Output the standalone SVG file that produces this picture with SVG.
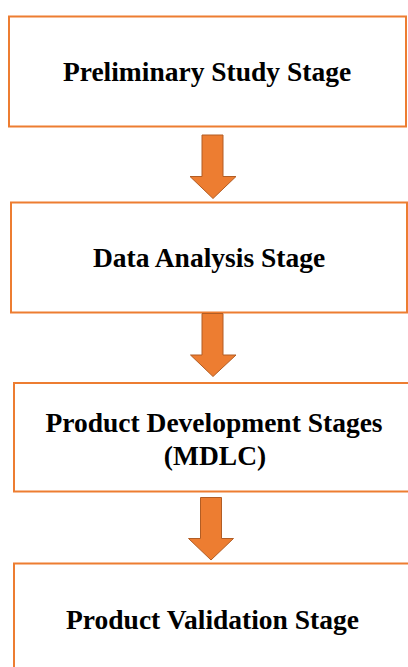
<svg xmlns="http://www.w3.org/2000/svg" width="408" height="667" viewBox="0 0 408 667">
<style>
.box{fill:#fff;stroke:#ED7D31;stroke-width:2}
.arr{fill:#ED7D31;stroke:#B25D24;stroke-width:1;stroke-linejoin:miter}
.t{font-family:"Liberation Serif","Times New Roman",serif;font-weight:bold;font-size:27.5px;fill:#000;text-anchor:middle}
</style>
<rect width="408" height="667" fill="#fff"/>
<g id="node1">
<rect class="box" x="9" y="16.5" width="397" height="110"/>
<text class="t" x="207" y="81">Preliminary Study Stage</text>
</g>
<g id="node2">
<rect class="box" x="11" y="202.5" width="396" height="110"/>
<text class="t" x="209" y="267">Data Analysis Stage</text>
</g>
<g id="node3">
<rect class="box" x="14" y="383" width="400" height="108.5"/>
<text class="t" x="214" y="432">Product Development Stages</text>
<text class="t" x="215" y="465">(MDLC)</text>
</g>
<g id="node4">
<rect class="box" x="14" y="563.5" width="400" height="120"/>
<text class="t" x="212.5" y="629">Product Validation Stage</text>
</g>
<g id="connectors">
<path class="arr" d="M202,135 H223 V176.5 H236 L213,198.5 L190,176.5 H202 Z"/>
<path class="arr" d="M202,313.5 H223 V355 H236 L213,376.5 L190.5,355 H202 Z"/>
<path class="arr" d="M200.5,497.5 H221.5 V538.5 H233.5 L211,560 L188.5,538.5 H200.5 Z"/>
</g>
</svg>
